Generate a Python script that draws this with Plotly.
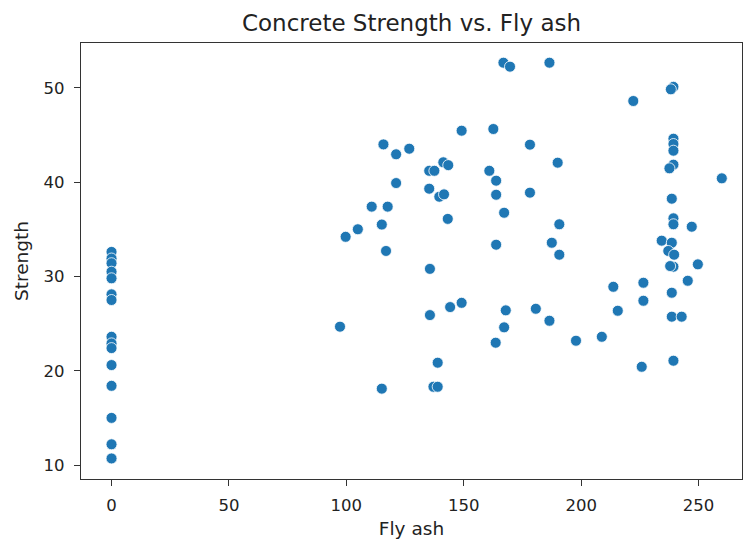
import plotly.graph_objects as go

fly_ash = [
    0, 0, 0, 0, 0, 0, 0, 0, 0, 0, 0, 0, 0, 0, 0,
    166.9, 169.7, 149.1, 162.6, 115.8, 121.2, 126.8, 141.3, 143.4, 135.3,
    137.5, 160.9, 163.8, 121.2, 135.3, 139.6, 141.6, 163.8, 110.8, 117.6,
    167.2, 115.1, 143.2, 104.9, 99.7, 116.9, 163.8, 135.6, 149.1, 144.2,
    135.6, 167.9, 167.2, 97.3, 163.6, 138.9, 115.1, 137.1, 138.9,
    186.5, 239.3, 238.2, 222.2, 178.2, 190.0, 239.3, 239.3, 239.3, 239.3,
    237.6, 259.9, 178.2, 238.6, 239.3, 239.3, 247.1, 190.7, 187.5, 190.7,
    234.3, 238.6, 237.1, 239.6, 239.3, 237.9, 249.7, 245.4, 226.5, 213.7,
    238.6, 226.5, 215.6, 180.7, 186.5, 238.6, 242.8, 208.8, 197.8, 239.3,
    225.8,
]
strength = [
    32.6, 31.9, 31.4, 30.5, 29.8, 28.1, 27.5, 23.6, 22.9, 22.4, 20.6, 18.4,
    15.0, 12.2, 10.7,
    52.66, 52.24, 45.45, 45.63, 44.0, 42.95, 43.54, 42.1, 41.8, 41.2,
    41.2, 41.2, 40.15, 39.9, 39.3, 38.45, 38.7, 38.66, 37.4, 37.4,
    36.75, 35.5, 36.1, 35.0, 34.2, 32.7, 33.36, 30.8, 27.2, 26.75,
    25.9, 26.4, 24.6, 24.67, 22.97, 20.85, 18.1, 18.3, 18.3,
    52.66, 50.1, 49.84, 48.6, 43.97, 42.06, 44.6, 44.04, 43.33, 41.85,
    41.46, 40.4, 38.88, 38.24, 36.16, 35.53, 35.27, 35.53, 33.57, 32.3,
    33.79, 33.57, 32.7, 32.3, 31.03, 31.1, 31.28, 29.54, 29.33, 28.9,
    28.27, 27.42, 26.36, 26.57, 25.3, 25.73, 25.73, 23.6, 23.18, 21.06,
    20.42,
]
x_ticks = [0, 50, 100, 150, 200, 250]
y_ticks = [10, 20, 30, 40, 50]

fig = go.Figure()
fig.add_trace(go.Scatter(
    x=fly_ash, y=strength, mode="markers",
    marker=dict(color="#1f77b4", size=11, line=dict(color="white", width=0.8)),
    showlegend=False,
))

font = "DejaVu Sans"
axis_common = dict(
    showgrid=False, zeroline=False, showline=True, mirror=True,
    linecolor="#333333", linewidth=1.3, ticks="outside", ticklen=6,
    tickcolor="#333333", tickfont=dict(family=font, size=16.5, color="#222"),
)
fig.update_layout(
    width=744, height=543,
    margin=dict(l=81, r=2, t=43, b=64),
    paper_bgcolor="white", plot_bgcolor="white",
    title=dict(text="Concrete Strength vs. Fly ash", xref="paper", x=0.5, xanchor="center",
               y=1 - 23 / 543, yanchor="middle",
               font=dict(family=font, size=23, color="#222")),
    xaxis=dict(range=[-13, 268.5], tickvals=x_ticks, ticklabelstandoff=5,
               title=dict(text="Fly ash", font=dict(family=font, size=18.5, color="#222"), standoff=8),
               **axis_common),
    yaxis=dict(range=[8.52, 54.75], tickvals=y_ticks, ticklabelstandoff=6,
               title=dict(text="Strength", font=dict(family=font, size=18.5, color="#222"), standoff=10),
               **axis_common),
)
fig.write_html("out.html")
